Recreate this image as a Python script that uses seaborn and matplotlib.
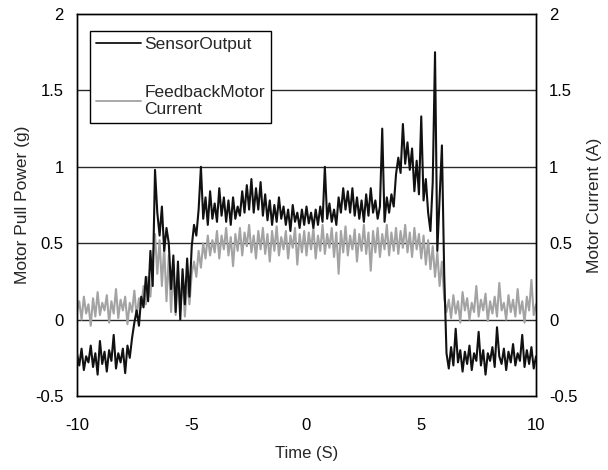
import numpy as np
import pandas as pd
import seaborn as sns
import matplotlib
matplotlib.use("Agg")
import matplotlib.pyplot as plt
from matplotlib.lines import Line2D

# ---- data ----
time_s = [round(-10 + 0.1 * i, 1) for i in range(201)]

sensor_output = [
    -0.22, -0.30, -0.19, -0.33, -0.24, -0.28, -0.17, -0.31, -0.22, -0.36,
    -0.14, -0.29, -0.21, -0.34, -0.20, -0.27, -0.10, -0.32, -0.22, -0.28,
    -0.19, -0.35, -0.17, -0.25, -0.12, -0.02, 0.06, -0.04, 0.15, 0.08,
    0.28, 0.12, 0.45, 0.22, 0.98, 0.70, 0.55, 0.74, 0.45, 0.60,
    0.50, 0.20, 0.42, 0.05, 0.38, 0.00, 0.33, 0.10, 0.40, 0.15,
    0.48, 0.62, 0.55, 0.72, 1.00, 0.66, 0.80, 0.62, 0.84, 0.66,
    0.76, 0.64, 0.86, 0.68, 0.80, 0.64, 0.78, 0.62, 0.80, 0.66,
    0.74, 0.68, 0.84, 0.70, 0.88, 0.72, 0.92, 0.70, 0.86, 0.72,
    0.90, 0.68, 0.82, 0.65, 0.78, 0.62, 0.75, 0.64, 0.80, 0.66,
    0.74, 0.62, 0.72, 0.58, 0.75, 0.64, 0.70, 0.60, 0.72, 0.62,
    0.74, 0.63, 0.70, 0.60, 0.72, 0.62, 0.74, 0.64, 1.00, 0.66,
    0.76, 0.64, 0.72, 0.62, 0.80, 0.70, 0.86, 0.72, 0.84, 0.70,
    0.86, 0.68, 0.80, 0.66, 0.78, 0.64, 0.82, 0.68, 0.86, 0.70,
    0.78, 0.66, 0.74, 1.25, 0.64, 0.80, 0.70, 0.82, 0.74, 0.95,
    1.06, 0.96, 1.28, 1.02, 1.16, 0.98, 1.12, 0.84, 1.04, 0.82,
    1.33, 0.78, 0.92, 0.70, 0.58, 0.90, 1.75, 0.45, 0.80, 1.14,
    0.30, -0.22, -0.32, -0.18, -0.30, -0.06, -0.28, -0.20, -0.34, -0.21,
    -0.29, -0.17, -0.33, -0.22, -0.27, -0.08, -0.30, -0.20, -0.36, -0.22,
    -0.27, -0.18, -0.31, -0.05, -0.24, -0.29, -0.19, -0.33, -0.21, -0.28,
    -0.16, -0.30, -0.22, -0.27, -0.10, -0.31, -0.20, -0.29, -0.18, -0.32,
    -0.24,
]

motor_current = [
    0.05, 0.12, 0.00, 0.15, 0.04, 0.10, -0.04, 0.14, 0.02, 0.18,
    0.03, 0.11, 0.06, 0.16, -0.02, 0.12, 0.04, 0.20, 0.01, 0.13,
    0.06, 0.15, -0.03, 0.11, 0.05, 0.19, 0.02, 0.14, 0.08, 0.22,
    0.10, 0.28, 0.15, 0.38, 0.56, 0.30, 0.52, 0.22, 0.48, 0.12,
    0.42, 0.05, 0.36, 0.03, 0.32, 0.06, 0.28, 0.02, 0.26, 0.10,
    0.30, 0.38, 0.28, 0.45, 0.34, 0.50, 0.40, 0.55, 0.42, 0.52,
    0.44, 0.58, 0.40, 0.55, 0.46, 0.60, 0.42, 0.54, 0.35, 0.56,
    0.45, 0.60, 0.42, 0.57, 0.48, 0.62, 0.44, 0.55, 0.40, 0.58,
    0.46, 0.60, 0.43, 0.56, 0.38, 0.58, 0.45, 0.61, 0.42, 0.54,
    0.46, 0.58, 0.40, 0.55, 0.47, 0.60, 0.36, 0.56, 0.44, 0.58,
    0.42, 0.57, 0.46, 0.60, 0.40, 0.55, 0.45, 0.62, 0.43, 0.56,
    0.47, 0.60, 0.41, 0.57, 0.30, 0.58, 0.44, 0.61, 0.42, 0.55,
    0.46, 0.59, 0.38, 0.56, 0.45, 0.62, 0.43, 0.57, 0.32, 0.58,
    0.44, 0.60, 0.41, 0.56, 0.46, 0.62, 0.42, 0.57, 0.45, 0.60,
    0.43, 0.58, 0.47, 0.62, 0.44, 0.57, 0.41, 0.60, 0.46, 0.56,
    0.40, 0.55, 0.36, 0.52, 0.33, 0.48, 0.28, 0.44, 0.22, 0.38,
    0.14, 0.05, 0.13, 0.01, 0.16, 0.04, 0.12, -0.02, 0.18, 0.06,
    0.14, 0.00, 0.11, 0.05, 0.22, 0.02, 0.13, 0.06, 0.17, -0.01,
    0.12, 0.04, 0.15, 0.02, 0.24, 0.06, 0.11, 0.00, 0.16, 0.05,
    0.13, 0.02, 0.20, 0.04, 0.12, -0.02, 0.15, 0.06, 0.26, 0.03,
    0.10,
]

x_ticks = [-10, -5, 0, 5, 10]
y_ticks = [-0.5, 0, 0.5, 1, 1.5, 2]
y_tick_labels = ["-0.5", "0", "0.5", "1", "1.5", "2"]
grid_levels = [0, 0.5, 1, 1.5]

df = pd.DataFrame({"Time": time_s, "Sensor": sensor_output, "Current": motor_current})

# ---- style ----
sns.set_style("white")
plt.rcParams["font.family"] = ["Liberation Sans", "DejaVu Sans"]

fig = plt.figure(figsize=(6.08, 4.70), dpi=100)
ax = fig.add_axes([0.1266, 0.1574, 0.755, 0.8128])
ax2 = ax.twinx()

# ax2 (behind): grid + current
for g in grid_levels:
    ax2.axhline(g, color="#2a2a2a", lw=1.0, zorder=0)
sns.lineplot(data=df, x="Time", y="Current", ax=ax2, color="#a3a3a3",
             lw=1.5, legend=False, zorder=2)

# ax (front): sensor output
ax.set_zorder(ax2.get_zorder() + 1)
ax.patch.set_visible(False)
sns.lineplot(data=df, x="Time", y="Sensor", ax=ax, color="#111111",
             lw=1.5, legend=False, zorder=3)

for a in (ax, ax2):
    a.set_xlim(-10, 10)
    a.set_ylim(-0.5, 2)
    a.set_yticks(y_ticks)
    a.set_yticklabels(y_tick_labels)
    a.tick_params(axis="y", length=0, labelsize=12, colors="black", pad=9.5)
    a.tick_params(axis="x", length=0, labelsize=12, colors="black", pad=16)
    for s in a.spines.values():
        s.set_color("black")
        s.set_linewidth(1.0)

ax.set_xticks(x_ticks)
ax.set_xticklabels([str(v) for v in x_ticks])
ax.set_xlabel("Time (S)", fontsize=12, labelpad=9)
ax.set_ylabel("Motor Pull Power (g)", fontsize=12.5, labelpad=4)
ax2.set_ylabel("Motor Current (A)", fontsize=12.5, labelpad=7)
ax2.set_xlabel("")

handles = [Line2D([], [], color="#111111", lw=1.3),
           Line2D([], [], color="#a3a3a3", lw=1.3)]
leg = ax.legend(handles, ["SensorOutput", "FeedbackMotor\nCurrent"],
                loc="upper left", bbox_to_anchor=(0.028, 0.955),
                fancybox=False, edgecolor="black", framealpha=1,
                fontsize=12.5, handlelength=2.6, handletextpad=0.2,
                labelspacing=1.85, borderpad=0.35, borderaxespad=0)
leg.get_frame().set_linewidth(1.0)

fig.savefig("out.png", dpi=100)
